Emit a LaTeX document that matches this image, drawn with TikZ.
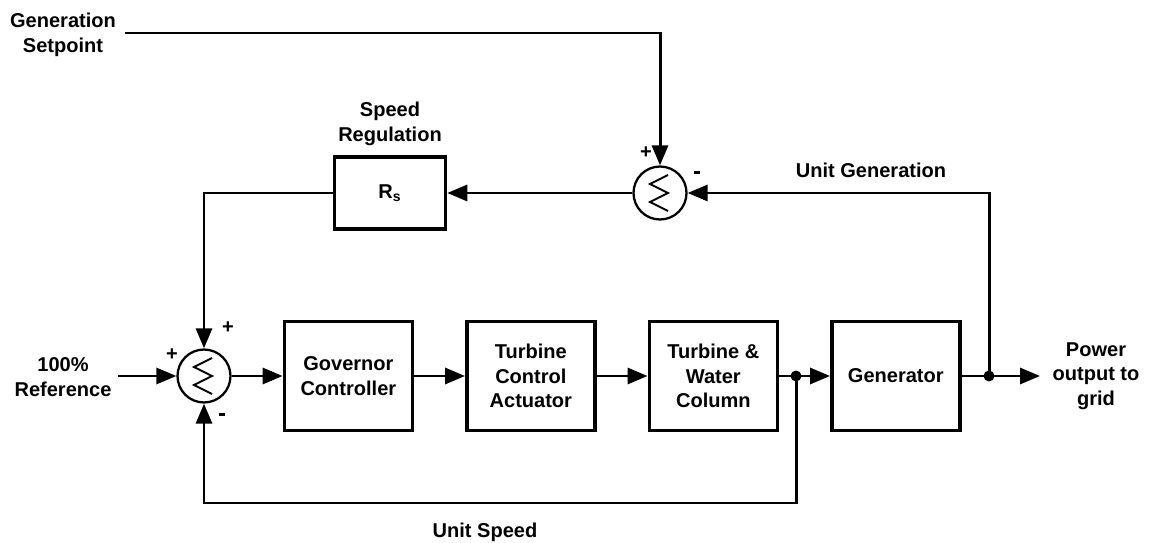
\documentclass[tikz,border=0pt]{standalone}
\usepackage{fontspec}
\setmainfont{Liberation Sans}
\usepackage{tikz}
\usetikzlibrary{arrows.meta,positioning,calc}
\newcommand{\diagfont}{\fontsize{11.4}{13.9}\selectfont\bfseries}
\newcommand{\sumzig}[1]{\draw[line width=1.1pt] ([shift={(8,-18)}]#1.center) -- ++(-18,9) -- ++(18,9) -- ++(-18,9) -- ++(18,9);}

\begin{document}
\begin{tikzpicture}[x=0.02cm,y=-0.02cm,node distance=1.02cm]
    \tikzset{
      block/.style={draw=black,line width=2pt,minimum width=2.56cm,minimum height=2.18cm,align=center,inner sep=0pt,font=\diagfont},
      summer/.style={circle,draw=black,line width=1.3pt,minimum size=1.06cm,inner sep=0pt},
      arrow/.style={-{Triangle[length=0.4cm,width=0.32cm]},draw=black,line width=1.7pt},
      wire/.style={draw=black,line width=1.7pt},
      tag/.style={align=center,font=\diagfont,inner sep=0pt},
      junction/.style={circle,fill=black,minimum size=0.22cm,inner sep=0pt}
    }
    \useasboundingbox (0,0) rectangle (1151,543);
    \node[summer] (sumA) at (204,376) {};
    \node[block,right=of sumA] (gov) {Governor\\Controller};
    \node[block,right=of gov] (tca) {Turbine\\Control\\Actuator};
    \node[block,right=of tca] (twc) {Turbine \&\\Water\\Column};
    \node[block,right=of twc] (gen) {Generator};
    \node[summer] (sumB) at (660,193) {};
    \node[block,minimum width=2.22cm,minimum height=1.44cm] (rs) at (390,193) {R\textsubscript{s}};
    \sumzig{sumA}
    \sumzig{sumB}
    \node[tag] (setpt) at (63,35) {Generation\\Setpoint};
    \node[tag] (ref) at (63,377) {100\%\\Reference};
    \node[tag] (speedreg) at (390,124) {Speed\\Regulation};
    \node[tag] (unitgen) at (871,170) {Unit Generation};
    \node[tag] (power) at (1096,376) {Power\\output to\\grid};
    \node[tag] (unitspeed) at (485,532) {Unit Speed};
    \node[tag] (plusA) at (172,355) {+};
    \node[tag] (plusB) at (228,328) {+};
    \node[tag] (minusA) at (222,414) {\rule{0.13cm}{0.06cm}};
    \node[tag] (plusC) at (646,153) {+};
    \node[tag] (minusB) at (697,173) {\rule{0.13cm}{0.06cm}};
    \coordinate (refStart) at (118,376);
    \coordinate (setStart) at (125,33);
    \coordinate (tapA) at (796,376);
    \coordinate (tapB) at (989,376);
    \coordinate (outEnd) at (1040,376);
    \coordinate (fbLow) at (796,503);
    \draw[arrow] (refStart) -- (sumA);
    \draw[arrow] (sumA) -- (gov);
    \draw[arrow] (gov) -- (tca);
    \draw[arrow] (tca) -- (twc);
    \draw[wire] (twc) -- (tapA);
    \draw[arrow] (tapA) -- (gen);
    \draw[wire] (gen) -- (tapB);
    \draw[arrow] (tapB) -- (outEnd);
    \draw[arrow] (tapB) |- (sumB);
    \draw[arrow] (sumB) -- (rs);
    \draw[arrow] (rs) -| (sumA);
    \draw[arrow] (tapA) -- (fbLow) -| (sumA);
    \draw[arrow] (setStart) -| (sumB);
    \node[junction] (dotA) at (tapA) {};
    \node[junction] (dotB) at (tapB) {};
  \end{tikzpicture}
\end{document}
